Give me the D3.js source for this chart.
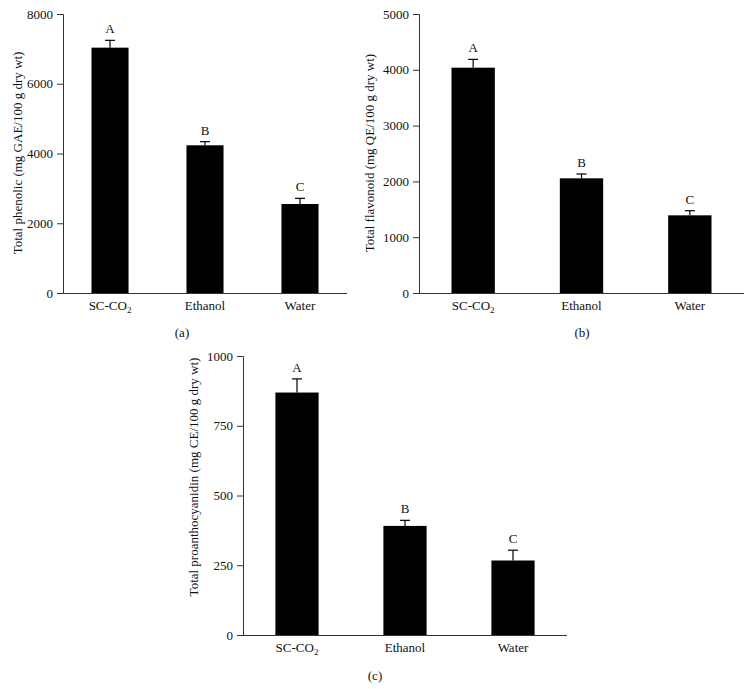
<!DOCTYPE html>
<html>
<head>
<meta charset="utf-8">
<script src="https://cdn.jsdelivr.net/npm/d3@7/dist/d3.min.js"></script>
<style>
  body { margin: 0; background: #fff; }
  svg text { font-family: "Liberation Serif", "DejaVu Serif", serif; fill: #111; }
</style>
</head>
<body>
<svg id="chart" width="752" height="689"></svg>
<script>
// ---- data ----
const categories = ["SC-CO2", "Ethanol", "Water"];
const letters = ["A", "B", "C"];

const phenolic = [7035, 4235, 2552];
const phenolicErr = [210, 105, 163];
const phenolicTicks = [0, 2000, 4000, 6000, 8000];

const flavonoid = [4038, 2055, 1392];
const flavonoidErr = [149, 78, 83];
const flavonoidTicks = [0, 1000, 2000, 3000, 4000, 5000];

const proantho = [869, 391, 267];
const proanthoErr = [49, 20, 37];
const proanthoTicks = [0, 250, 500, 750, 1000];

const titles = [
  "Total phenolic (mg GAE/100 g dry wt)",
  "Total flavonoid (mg QE/100 g dry wt)",
  "Total proanthocyanidin (mg CE/100 g dry wt)"
];
const panelLabels = ["(a)", "(b)", "(c)"];

// ---- layout ----
const svg = d3.select("#chart");
const FS = 13;
const panels = [
  { vals: phenolic, errs: phenolicErr, ticks: phenolicTicks, title: titles[0], label: panelLabels[0],
    x0: 63, x1: 347, yTop: 14, yBot: 293, titleX: 17, titleY: 153, labelX: 182, labelY: 337, pad: 0.61 },
  { vals: flavonoid, errs: flavonoidErr, ticks: flavonoidTicks, title: titles[1], label: panelLabels[1],
    x0: 419, x1: 744, yTop: 14, yBot: 293, titleX: 369, titleY: 153, labelX: 582, labelY: 337, pad: 0.6 },
  { vals: proantho, errs: proanthoErr, ticks: proanthoTicks, title: titles[2], label: panelLabels[2],
    x0: 243, x1: 567, yTop: 356, yBot: 635, titleX: 193, titleY: 477, labelX: 375, labelY: 680, pad: 0.6 }
];

const axisColor = "#333";

panels.forEach(p => {
  const g = svg.append("g");
  const x = d3.scaleBand().domain(categories).range([p.x0, p.x1]).paddingInner(p.pad).paddingOuter(0.3);
  const y = d3.scaleLinear().domain([0, p.ticks[p.ticks.length - 1]]).range([p.yBot, p.yTop]);

  // bars
  g.selectAll("rect.bar").data(p.vals).enter().append("rect")
    .attr("x", (d, i) => x(categories[i]))
    .attr("y", d => y(d))
    .attr("width", x.bandwidth())
    .attr("height", d => y(0) - y(d))
    .attr("fill", "#000");

  // error bars
  const cap = 5;
  p.vals.forEach((v, i) => {
    const cx = x(categories[i]) + x.bandwidth() / 2;
    g.append("line").attr("x1", cx).attr("x2", cx)
      .attr("y1", y(v)).attr("y2", y(v + p.errs[i]))
      .attr("stroke", "#000").attr("stroke-width", 1.2);
    g.append("line").attr("x1", cx - cap).attr("x2", cx + cap)
      .attr("y1", y(v + p.errs[i])).attr("y2", y(v + p.errs[i]))
      .attr("stroke", "#000").attr("stroke-width", 1.2);
    g.append("text").attr("x", cx).attr("y", y(v + p.errs[i]) - 7)
      .attr("text-anchor", "middle").attr("font-size", FS).text(letters[i]);
  });

  // y axis
  const yAxis = d3.axisLeft(y).tickValues(p.ticks).tickSize(6).tickPadding(4).tickFormat(d3.format("d"));
  const ya = g.append("g").attr("transform", `translate(${p.x0},0)`).call(yAxis);
  ya.select(".domain").attr("d", `M-6,${p.yTop + 0.5}H0.5V${p.yBot + 0.5}`).attr("stroke", axisColor);
  ya.selectAll(".tick line").attr("stroke", axisColor);
  ya.selectAll(".tick text").attr("font-size", FS).attr("font-family", "Liberation Serif").attr("fill", "#111");

  // x axis (line only + labels)
  const xAxis = d3.axisBottom(x).tickSize(0).tickPadding(8);
  const xa = g.append("g").attr("transform", `translate(0,${p.yBot})`).call(xAxis);
  xa.select(".domain").attr("d", `M${p.x0},0.5H${p.x1}`).attr("stroke", axisColor);
  xa.selectAll(".tick text").attr("font-size", FS).attr("font-family", "Liberation Serif").attr("fill", "#111")
    .each(function(d) {
      const t = d3.select(this);
      if (d === "SC-CO2") {
        t.text("SC-CO");
        t.append("tspan").attr("font-size", 9).attr("dy", "0.35em").text("2");
      }
    });

  // y title
  g.append("text")
    .attr("transform", `translate(${p.titleX},${p.titleY}) rotate(-90)`)
    .attr("text-anchor", "middle").attr("dy", "0.35em").attr("font-size", FS)
    .text(p.title);

  // panel label
  g.append("text").attr("x", p.labelX).attr("y", p.labelY)
    .attr("text-anchor", "middle").attr("font-size", FS).text(p.label);
});
</script>
</body>
</html>
